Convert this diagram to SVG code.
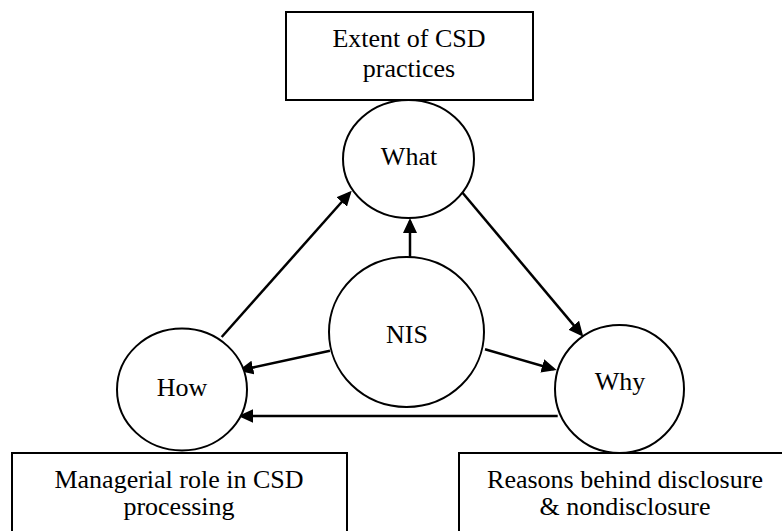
<svg xmlns="http://www.w3.org/2000/svg" width="782" height="531" viewBox="0 0 782 531">
<defs>
<style>
.box{fill:#fff;stroke:#000;stroke-width:2}
.node{fill:#fff;stroke:#000;stroke-width:2}
.t{font-family:"Liberation Serif","Times New Roman",serif;font-size:26px;fill:#000;text-anchor:middle}
.edge{stroke:#000;stroke-width:2.5;fill:none;marker-end:url(#ah)}
</style>
<marker id="ah" markerUnits="userSpaceOnUse" markerWidth="15" markerHeight="14" refX="12" refY="7" orient="auto">
<path d="M0,0 L15,7 L0,14 z" fill="#000"/>
</marker>
</defs>
<rect width="782" height="531" fill="#fff"/>
<g id="box-what">
<rect class="box" x="286" y="12" width="247" height="88"/>
<text class="t" x="409" y="47">Extent of CSD</text>
<text class="t" x="409" y="77">practices</text>
</g>
<g id="box-how">
<rect class="box" x="12" y="453" width="335" height="90"/>
<text class="t" x="179" y="488">Managerial role in CSD</text>
<text class="t" x="179" y="515">processing</text>
</g>
<g id="box-why">
<rect class="box" x="459" y="453" width="340" height="90"/>
<text class="t" x="625" y="488">Reasons behind disclosure</text>
<text class="t" x="625" y="515">&amp; nondisclosure</text>
</g>
<g id="connectors">
<line class="edge" x1="410" y1="257" x2="410" y2="221"/>
<line class="edge" x1="221.7" y1="337" x2="349.7" y2="193"/>
<line class="edge" x1="461.7" y1="191.7" x2="581.4" y2="334.4"/>
<line class="edge" x1="330" y1="350.7" x2="241.2" y2="370.1"/>
<line class="edge" x1="485" y1="349.3" x2="553.8" y2="369.2"/>
<line class="edge" x1="557.7" y1="416" x2="241.3" y2="416"/>
</g>
<g id="node-what">
<ellipse class="node" cx="408.5" cy="159" rx="65.5" ry="59"/>
<text class="t" x="409" y="165">What</text>
</g>
<g id="node-nis">
<ellipse class="node" cx="406.5" cy="332" rx="77.5" ry="75"/>
<text class="t" x="407" y="343">NIS</text>
</g>
<g id="node-how">
<ellipse class="node" cx="182" cy="389.5" rx="65" ry="61"/>
<text class="t" x="182" y="396">How</text>
</g>
<g id="node-why">
<ellipse class="node" cx="619.5" cy="389" rx="64.5" ry="64"/>
<text class="t" x="620" y="390">Why</text>
</g>
</svg>
